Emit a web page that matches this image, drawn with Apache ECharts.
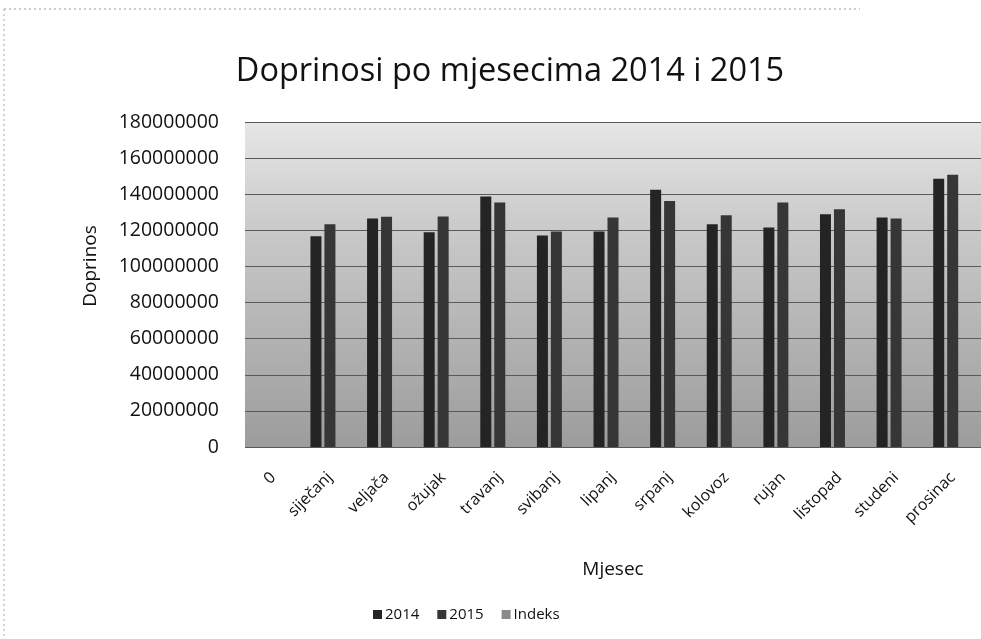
<!DOCTYPE html>
<html>
<head>
<meta charset="utf-8">
<script src="https://cdn.jsdelivr.net/npm/echarts@6/dist/echarts.min.js"></script>
<style>
html,body{margin:0;padding:0;background:#fff;}
#chart{width:981px;height:639px;}
</style>
</head>
<body>
<div id="chart"></div>
<script>
const categories = ['0','siječanj','veljača','ožujak','travanj','svibanj','lipanj','srpanj','kolovoz','rujan','listopad','studeni','prosinac'];
const values2014 = [null,116700000,126600000,118900000,138700000,117200000,119300000,142500000,123400000,121600000,128900000,127100000,148600000];
const values2015 = [null,123400000,127500000,127700000,135400000,119400000,127100000,136300000,128400000,135400000,131700000,126600000,150800000];
const valuesIndeks = [null,106,101,107,98,102,107,96,104,111,102,100,101];
const yTicks = {min:0, max:180000000, interval:20000000};

const chart = echarts.init(document.getElementById('chart'));
const font = 'Open Sans, Noto Sans, sans-serif';
chart.setOption({
  backgroundColor:'#ffffff',
  animation:false,
  title:{
    text:'Doprinosi po mjesecima 2014 i 2015',
    left:505, top:50, textAlign:'center',
    textStyle:{fontFamily:font, fontSize:32.5, fontWeight:'normal', color:'#111'}
  },
  legend:{
    data:['2014','2015','Indeks'],
    left:368, top:602,
    itemWidth:9, itemHeight:9, itemGap:18,
    icon:'rect',
    textStyle:{fontFamily:font, fontSize:15, color:'#111', padding:[0,0,0,-2]}
  },
  grid:{
    left:245, right:-9, top:122, bottom:639-447,
    show:true, borderWidth:0,
    backgroundColor:{type:'linear',x:0,y:0,x2:0,y2:1,colorStops:[
      {offset:0,color:'#e6e6e6'},{offset:0.35,color:'#c8c8c8'},{offset:1,color:'#9c9c9c'}]}
  },
  xAxis:{
    type:'category', data:categories,
    axisLine:{show:false}, axisTick:{show:false},
    axisLabel:{rotate:45, interval:0, margin:28, fontFamily:font, fontSize:16, color:'#111'}
  },
  yAxis:{
    type:'value', min:yTicks.min, max:yTicks.max, interval:yTicks.interval,
    axisLine:{show:false}, axisTick:{show:false},
    axisLabel:{margin:26, fontFamily:font, fontSize:19.5, color:'#111', formatter:function(v){return String(v);}},
    splitLine:{lineStyle:{color:'#5a5a5a', width:1}}
  },
  series:[
    {name:'2014', type:'bar', data:values2014, barWidth:11, barGap:'27%', itemStyle:{color:'#242424'}},
    {name:'2015', type:'bar', data:values2015, barWidth:11, barGap:'27%', itemStyle:{color:'#363636'}},
    {name:'Indeks', type:'bar', data:valuesIndeks, barWidth:11, barGap:'27%', itemStyle:{color:'#8a8a8a'}}
  ],
  graphic:[
    {type:'text', x:613, y:570, style:{text:'Mjesec', fontFamily:font, fontSize:19, fill:'#111', align:'center', verticalAlign:'middle'}},
    {type:'text', x:91, y:266, rotation:Math.PI/2, style:{text:'Doprinos', fontFamily:font, fontSize:19, fill:'#111', align:'center', verticalAlign:'middle'}},
    {type:'line', shape:{x1:4,y1:9,x2:860,y2:9}, style:{stroke:'#999', lineDash:[2,3], lineWidth:1}},
    {type:'line', shape:{x1:4,y1:9,x2:4,y2:639}, style:{stroke:'#aaa', lineDash:[2,3], lineWidth:1}}
  ]
});
</script>
</body>
</html>
